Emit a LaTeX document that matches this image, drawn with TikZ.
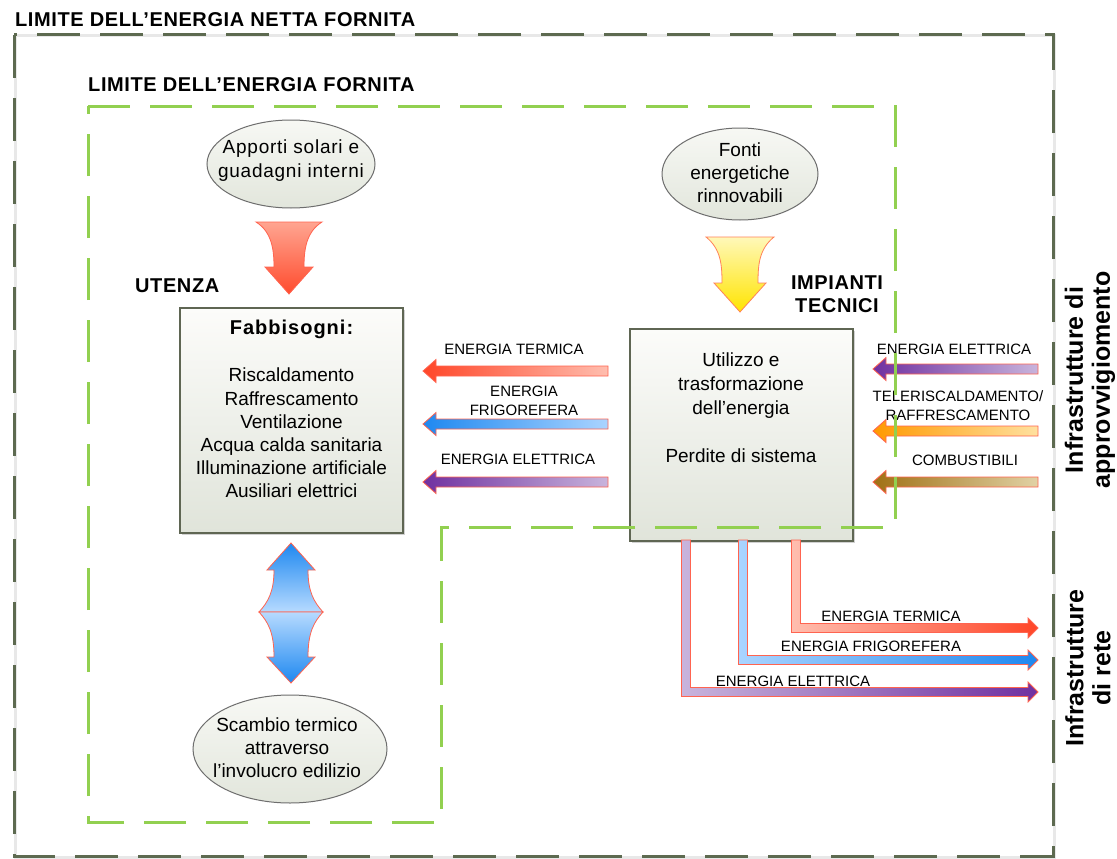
\documentclass[tikz,border=0pt]{standalone}
\usepackage{fontspec}
\setmainfont{Liberation Sans}
\usetikzlibrary{calc,shapes.geometric,shadows}
\definecolor{outerol}{RGB}{93,106,80}
\definecolor{lgreen}{RGB}{146,208,80}
\definecolor{ellborder}{RGB}{110,110,110}
\definecolor{elltop}{RGB}{247,248,244}
\definecolor{ellbot}{RGB}{226,230,220}
\definecolor{boxborder}{RGB}{95,102,83}
\definecolor{boxtop}{RGB}{252,252,250}
\definecolor{boxbot}{RGB}{224,228,218}
\definecolor{arrowred}{RGB}{255,100,80}
\definecolor{redtip}{RGB}{255,70,40}
\definecolor{redtail}{RGB}{255,190,175}
\definecolor{bluetip}{RGB}{30,136,240}
\definecolor{bluetail}{RGB}{170,212,255}
\definecolor{purtip}{RGB}{112,48,160}
\definecolor{purtail}{RGB}{200,180,220}
\definecolor{ortip}{RGB}{255,153,0}
\definecolor{ortail}{RGB}{255,225,160}
\definecolor{brtip}{RGB}{160,112,20}
\definecolor{brtail}{RGB}{225,210,165}
\definecolor{funtop}{RGB}{255,165,145}
\definecolor{funbot}{RGB}{255,75,45}
\definecolor{yeltop}{RGB}{255,248,185}
\definecolor{yelbot}{RGB}{255,228,0}
\definecolor{yelline}{RGB}{255,130,90}
\newcommand\leftblock[4]{%
  \path[arrowline, left color=#3, right color=#4] let \p1=(#1), \p2=(#2) in
    (\x1,{\y1+5pt}) -- ({\x2+13pt},{\y1+5pt}) -- ({\x2+13pt},{\y1+11.5pt}) --
    (\x2,\y1) -- ({\x2+13pt},{\y1-11.5pt}) -- ({\x2+13pt},{\y1-5pt}) --
    (\x1,{\y1-5pt}) -- cycle;}
\newcommand\lblock[4]{%
  \path[arrowline, left color=#3, right color=#4] let \p1=(#1), \p2=(#2) in
    ({\x1-4.5pt},\y1) -- ({\x1+4.5pt},\y1) -- ({\x1+4.5pt},{\y2+4.5pt}) --
    ({\x2-10pt},{\y2+4.5pt}) -- ({\x2-10pt},{\y2+10pt}) -- (\x2,\y2) --
    ({\x2-10pt},{\y2-10pt}) -- ({\x2-10pt},{\y2-4.5pt}) --
    ({\x1-4.5pt},{\y2-4.5pt}) -- cycle;}
\begin{document}
\begin{tikzpicture}[x=1pt,y=-1pt,
  outerb/.style={draw=outerol, line width=3pt, dash pattern=on 43pt off 20pt},
  greenb/.style={draw=lgreen, line width=3pt, dash pattern=on 42pt off 20pt},
  ell/.style={ellipse, draw=ellborder, line width=1pt, top color=elltop, bottom color=ellbot, inner sep=0pt},
  boxs/.style={rectangle, draw=boxborder, line width=1.2pt, top color=boxtop, bottom color=boxbot,
     drop shadow={shadow xshift=2pt, shadow yshift=-2pt, fill=black, opacity=0.18}},
  body/.style={font=\fontsize{19}{23.2}\selectfont, align=center, inner sep=0pt},
  etext/.style={font=\fontsize{19}{24}\selectfont\addfontfeature{LetterSpace=4}, align=center, inner sep=0pt},
  lab/.style={font=\fontsize{15}{19}\selectfont, align=center, inner sep=0pt},
  ttl/.style={font=\fontsize{20}{23}\selectfont\bfseries\addfontfeature{LetterSpace=3}, align=center, inner sep=0pt},
  rot/.style={font=\fontsize{25}{27}\selectfont\bfseries, align=center, inner sep=0pt, rotate=90},
  arrowline/.style={draw=arrowred, line width=0.8pt, line join=miter}]
\useasboundingbox (0,0) rectangle (1117,859);
\fill[white] (0,0) rectangle (1117,859);

% outer boundary
\draw[black!9, line width=3pt] (15,36) rectangle (1054,857);
\draw[outerb] (14,35) rectangle (1053,856);

% titles
\node[ttl, anchor=base west] (t1) at (15,27) {LIMITE DELL'ENERGIA NETTA FORNITA};
\node[ttl, anchor=base west] (t2) at (88,92) {LIMITE DELL'ENERGIA FORNITA};
\node[ttl, anchor=base west] (ut) at (135,292) {UTENZA};
\node[ttl] (imp) at (837,294) {IMPIANTI\\TECNICI};

% ellipses
\node[ell, minimum width=168pt, minimum height=88pt] (app) at (291,164) {};
\node[etext] (appt) at (291,161) {Apporti solari e\\guadagni interni};
\node[ell, minimum width=156pt, minimum height=92pt] (fon) at (740,174) {};
\node[etext, font=\fontsize{19}{23}\selectfont] (font) at (740,173) {Fonti\\energetiche\\rinnovabili};
\node[ell, minimum width=194pt, minimum height=108pt] (sca) at (290,749) {};
\node[etext, font=\fontsize{19}{23}\selectfont] (scat) at (287,748) {Scambio termico\\attraverso\\l'involucro edilizio};

% boxes
\node[boxs, minimum width=223pt, minimum height=225pt] (fabb) at (291.5,420.5) {};
\node[body, anchor=north] (fabbt) at (291.5,319.4)
  {{\fontsize{20}{23.2}\selectfont\bfseries\addfontfeature{LetterSpace=5} Fabbisogni:}\\[24.6pt]
   Riscaldamento\\Raffrescamento\\Ventilazione\\Acqua calda sanitaria\\
   Illuminazione artificiale\\Ausiliari elettrici};
\node[boxs, minimum width=223pt, minimum height=212pt] (util) at (741.5,435) {};
\node[body, font=\fontsize{19}{24}\selectfont, anchor=north] (utilt) at (741,352.6)
  {Utilizzo e\\trasformazione\\dell'energia\\[24pt]Perdite di sistema};

% funnel arrows
\path[arrowline, top color=funtop, bottom color=funbot]
  (256,222) -- (322,222) .. controls (306,232) and (304,250) .. (304,267)
  -- (313,267) -- (289,294) -- (265,267) -- (274,267)
  .. controls (274,250) and (272,232) .. (256,222) -- cycle;
\path[draw=yelline, line width=0.8pt, top color=yeltop, bottom color=yelbot]
  (706,237) -- (774,237) .. controls (759,249) and (758,265) .. (758,283)
  -- (766,283) -- (740,312) -- (714,283) -- (722,283)
  .. controls (722,265) and (721,249) .. (706,237) -- cycle;

% double arrow
\path[arrowline, top color=bluetip, bottom color=bluetail!85]
  (291,543) -- (315,570) -- (308,570) .. controls (308,592) and (314,602) .. (323,612)
  -- (259,612) .. controls (268,602) and (274,592) .. (274,570) -- (267,570) -- cycle;
\path[arrowline, top color=bluetail!85, bottom color=bluetip]
  (259,612) -- (323,612) .. controls (314,622) and (308,632) .. (308,657)
  -- (315,657) -- (291,683) -- (267,657) -- (274,657)
  .. controls (274,632) and (268,622) .. (259,612) -- cycle;

% coordinates for block arrows
\coordinate (la1) at (608,371); \coordinate (lb1) at (423,371);
\coordinate (la2) at (608,424); \coordinate (lb2) at (423,424);
\coordinate (la3) at (608,482); \coordinate (lb3) at (423,482);
\coordinate (ra1) at (1038,369); \coordinate (rb1) at (873,369);
\coordinate (ra2) at (1038,431); \coordinate (rb2) at (873,431);
\coordinate (ra3) at (1038,482); \coordinate (rb3) at (873,482);
\coordinate (va1) at (796,540); \coordinate (vb1) at (1038,628);
\coordinate (va2) at (743,540); \coordinate (vb2) at (1038,660);
\coordinate (va3) at (686,540); \coordinate (vb3) at (1038,692);

\leftblock{la1}{lb1}{redtip}{redtail}
\leftblock{la2}{lb2}{bluetip}{bluetail}
\leftblock{la3}{lb3}{purtip}{purtail}
\leftblock{ra1}{rb1}{purtip}{purtail}
\leftblock{ra2}{rb2}{ortip}{ortail}
\leftblock{ra3}{rb3}{brtip}{brtail}
\lblock{va1}{vb1}{redtail}{redtip}
\lblock{va2}{vb2}{bluetail}{bluetip}
\lblock{va3}{vb3}{purtail}{purtip}

% arrow labels
\node[lab] (l1) at (514,349) {ENERGIA TERMICA};
\node[lab] (l2) at (524,400.5) {ENERGIA\\FRIGOREFERA};
\node[lab] (l3) at (518,459) {ENERGIA ELETTRICA};
\node[lab] (r1) at (954,349) {ENERGIA ELETTRICA};
\node[lab] (r2) at (958,405.5) {TELERISCALDAMENTO/\\RAFFRESCAMENTO};
\node[lab] (r3) at (965,460) {COMBUSTIBILI};
\node[lab] (b1) at (891,616) {ENERGIA TERMICA};
\node[lab] (b2) at (871,646) {ENERGIA FRIGOREFERA};
\node[lab] (b3) at (793,681) {ENERGIA ELETTRICA};

% rotated side labels
\node[rot] (inf1) at (1090,380) {Infrastrutture di\\approvvigiomento};
\node[rot] (inf2) at (1088,668) {Infrastrutture\\di rete};

% inner (green) boundary
\draw[greenb] (88,106) -- (895,106) -- (895,527) -- (441,527) -- (441,822) -- (88,822) -- cycle;
\end{tikzpicture}
\end{document}
